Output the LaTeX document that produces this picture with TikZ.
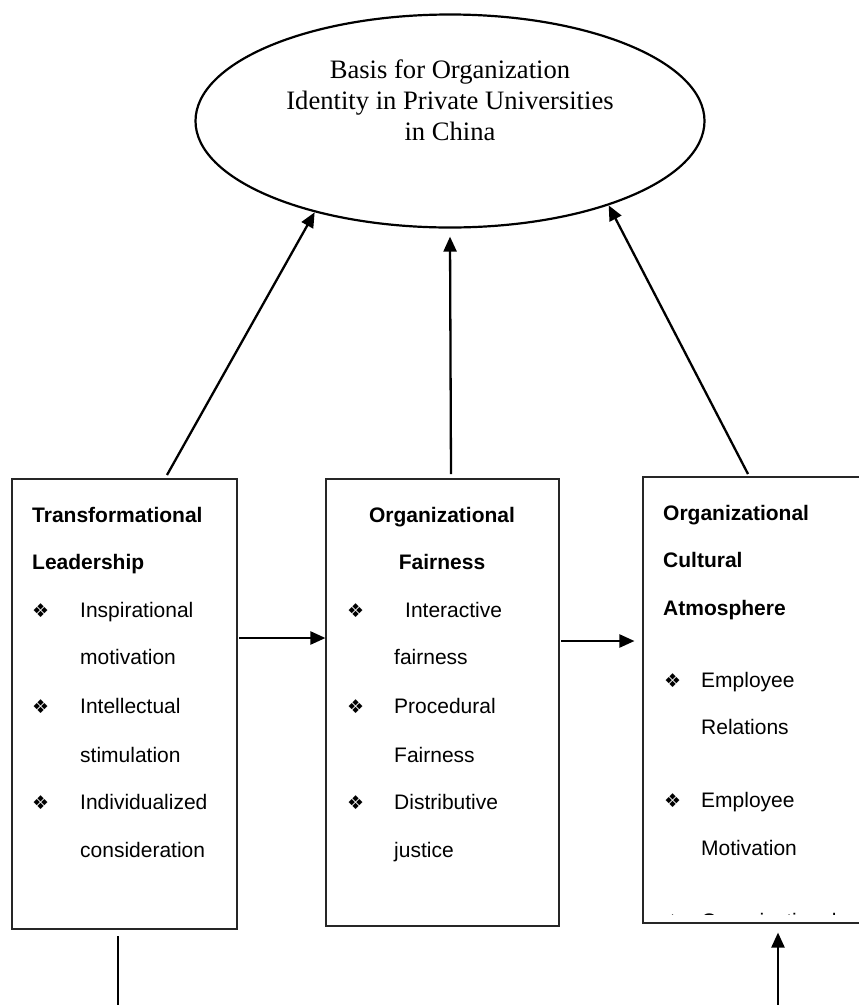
\documentclass[tikz,border=0pt]{standalone}
\usepackage{fontspec}
\setmainfont{Liberation Serif}
\newfontfamily\sansf{Liberation Sans}
\newfontfamily\symf{DejaVu Sans}
\usetikzlibrary{arrows.meta,shapes.geometric,calc}
\tikzset{
  hd/.style={anchor=base west, inner sep=0pt, font=\sansf\bfseries\fontsize{21}{25}\selectfont},
  hdc/.style={anchor=base, inner sep=0pt, font=\sansf\bfseries\fontsize{21}{25}\selectfont},
  tx/.style={anchor=base west, inner sep=0pt, font=\sansf\fontsize{21}{25}\selectfont},
  bul/.style={anchor=base west, inner sep=0pt, font=\symf\fontsize{19}{22}\selectfont},
  ttl/.style={anchor=base, inner sep=0pt, font=\fontsize{26.6}{31}\selectfont},
  boxx/.style={draw=black!85, line width=1.1pt, inner sep=0pt},
  arr/.style={line width=2.3pt, -{Triangle[length=15pt,width=13pt]}},
  ln/.style={line width=2.3pt}
}
\begin{document}
\begin{tikzpicture}[x=1pt,y=-1pt]
\useasboundingbox (0,0) rectangle (859,1005);
\begin{scope}
\clip (0,0) rectangle (859,1005);
% goal ellipse
\node[ellipse, draw, line width=2.2pt, minimum width=509pt, minimum height=213pt, inner sep=0pt] (goal) at (450,121) {};
\node[ttl] (t1) at (450,78) {Basis for Organization};
\node[ttl] (t2) at (450,109) {Identity in Private Universities};
\node[ttl] (t3) at (450,140) {in China};
% boxes
\node[boxx, minimum width=225pt, minimum height=450pt] (lbox) at (124.5,704) {};
\node[boxx, minimum width=233pt, minimum height=447pt] (mbox) at (442.5,702.5) {};
\node[boxx, minimum width=232pt, minimum height=446pt] (rbox) at (759,700) {};
% left box text
\node[hd] (l1) at (32,522) {Transformational};
\node[hd] (l2) at (32,569) {Leadership};
\node[bul] (lb1) at (32,617) {❖};
\node[tx] (l3) at (80,617) {Inspirational};
\node[tx] (l4) at (80,664) {motivation};
\node[bul] (lb2) at (32,713) {❖};
\node[tx] (l5) at (80,713) {Intellectual};
\node[tx] (l6) at (80,762) {stimulation};
\node[bul] (lb3) at (32,809) {❖};
\node[tx] (l7) at (80,809) {Individualized};
\node[tx] (l8) at (80,857) {consideration};
% middle box text
\node[hdc] (m1) at (442,522) {Organizational};
\node[hdc] (m2) at (442,569) {Fairness};
\node[bul] (mb1) at (347,617) {❖};
\node[tx] (m3) at (405,617) {Interactive};
\node[tx] (m4) at (394,664) {fairness};
\node[bul] (mb2) at (347,713) {❖};
\node[tx] (m5) at (394,713) {Procedural};
\node[tx] (m6) at (394,762) {Fairness};
\node[bul] (mb3) at (347,809) {❖};
\node[tx] (m7) at (394,809) {Distributive};
\node[tx] (m8) at (394,857) {justice};
% right box text
\node[hd] (r1) at (663,520) {Organizational};
\node[hd] (r2) at (663,567) {Cultural};
\node[hd] (r3) at (663,615) {Atmosphere};
\node[bul] (rb1) at (664,687) {❖};
\node[tx] (r4) at (701,687) {Employee};
\node[tx] (r5) at (701,734) {Relations};
\node[bul] (rb2) at (664,807) {❖};
\node[tx] (r6) at (701,807) {Employee};
\node[tx] (r7) at (701,855) {Motivation};
\begin{scope}
\clip (643,477) rectangle (859,914);
\node[bul] (rb3) at (664,928) {❖};
\node[tx] (r8) at (701,928) {Organizational};
\end{scope}
% connectors to goal
\coordinate (s1) at (167,475);
\coordinate (s2) at (451,474);
\coordinate (s3) at (748,474);
\draw[arr] (s1) -- (goal.214.6);
\draw[arr] (s2) -- ([yshift=-8pt]goal.south);
\draw[arr] (s3) -- (goal.332.5);
% horizontal connectors
\coordinate (h1) at (239,638);
\coordinate (h2) at (561,641);
\draw[arr] (h1) -- (h1 -| mbox.west);
\draw[arr] (h2) -- ($(h2 -| rbox.west)+(-8,0)$);
% bottom connectors
\coordinate (b1) at (118,1005);
\coordinate (b2) at (778,1005);
\draw[ln] (b1) -- ($(b1 |- lbox.south)+(0,6)$);
\draw[arr] (b2) -- ($(b2 |- rbox.south)+(0,9)$);
\end{scope}
\end{tikzpicture}
\end{document}
